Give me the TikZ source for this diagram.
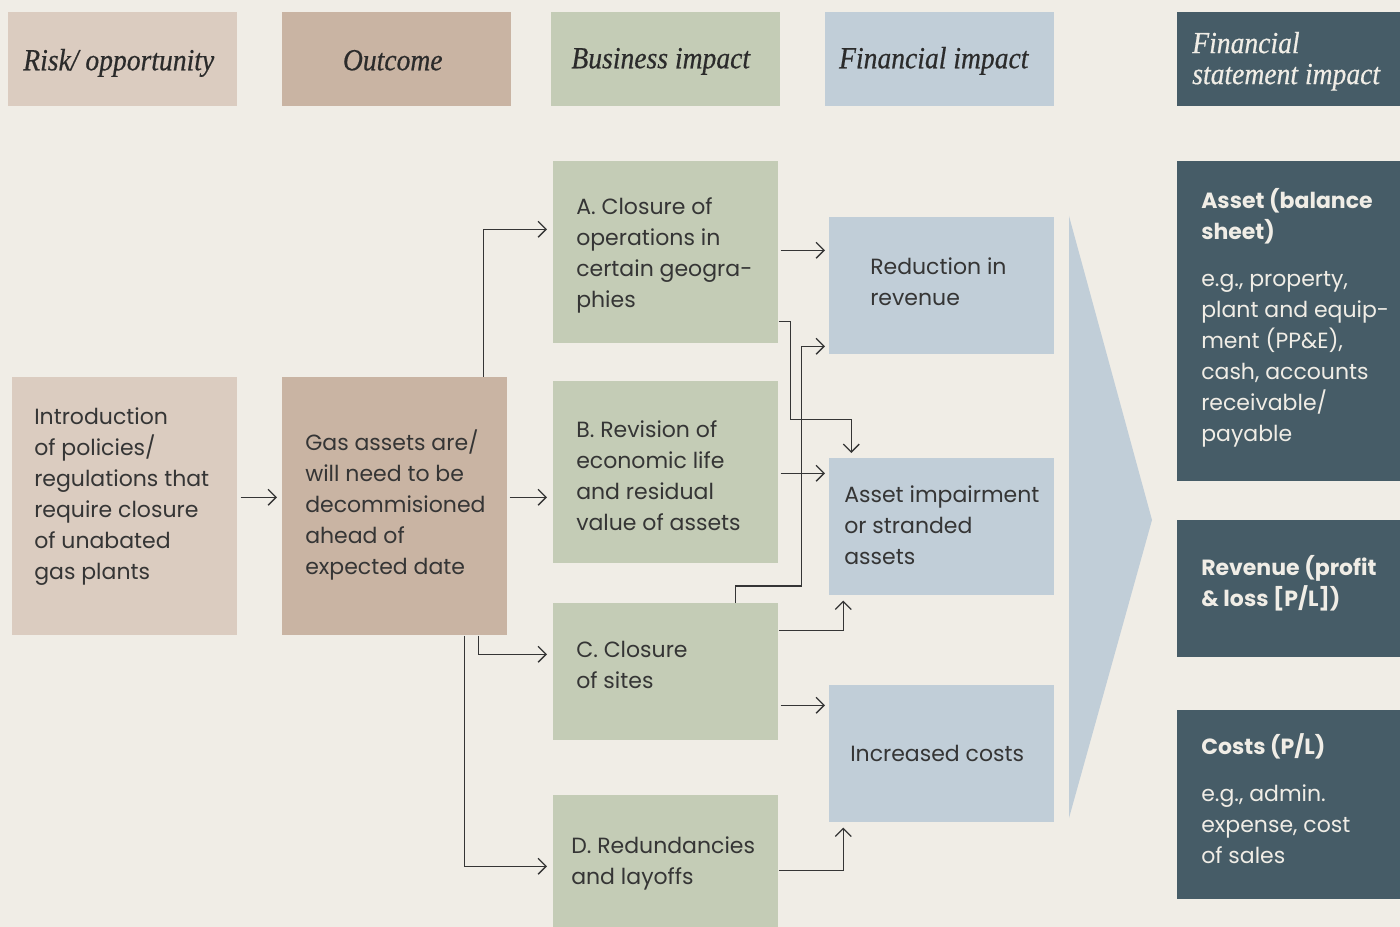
\documentclass[tikz,border=0pt]{standalone}
\usepackage{fontspec}
\setmainfont{Poppins}
\newfontfamily\hdrfont[FakeStretch=0.9,FakeBold=0.5]{Liberation Serif}
\usetikzlibrary{arrows.meta,calc}
\definecolor{bg}{HTML}{F0EDE6}
\definecolor{riskc}{HTML}{DBCCC0}
\definecolor{outc}{HTML}{C9B4A3}
\definecolor{busc}{HTML}{C4CCB6}
\definecolor{finc}{HTML}{C1CED8}
\definecolor{darkc}{HTML}{465C67}
\definecolor{ink}{HTML}{353535}
\definecolor{hink}{HTML}{2B2B2B}
\definecolor{lite}{HTML}{F0EDE6}
\begin{document}
\begin{tikzpicture}[x=0.75pt,y=-0.75pt,
  bx/.style={draw=none, inner sep=0pt, anchor=north west},
  txt/.style={anchor=west, align=left, inner sep=0pt, text=ink, font=\fontsize{16.5}{23.25}\selectfont},
  ltxt/.style={txt, text=lite},
  hdf/.style={font=\hdrfont\itshape\fontsize{23}{23.25}\selectfont},
  hd/.style={bx, minimum width=229*0.75pt, minimum height=94*0.75pt},
  hdt/.style={hdf, anchor=base, inner sep=0pt, text=hink},
  con/.style={draw=ink, line width=1pt, -{Straight Barb[length=6pt,width=12pt]}}]
\fill[bg] (0,0) rectangle (1400,927);
\useasboundingbox (0,0) rectangle (1400,927);
% headers
\node[hd, fill=riskc] (h1) at (8,12) {};
\node[hdt] (h1t) at ([shift={(-4,11)}]h1.center) {Risk/ opportunity};
\node[hd, fill=outc] (h2) at (282,12) {};
\node[hdt] (h2t) at ([shift={(-4,11)}]h2.center) {Outcome};
\node[hd, fill=busc] (h3) at (551,12) {};
\node[hdt] (h3t) at ([shift={(-5,9)}]h3.center) {Business impact};
\node[hd, fill=finc] (h4) at (825,12) {};
\node[hdt] (h4t) at ([shift={(-6,9)}]h4.center) {Financial impact};
\node[bx, fill=darkc, minimum width=223*0.75pt, minimum height=94*0.75pt] (h5) at (1177,12) {};
\node[hdf, anchor=west, align=left, inner sep=0pt, text=lite] (h5t) at ([shift={(15,2)}]h5.west) {Financial\\statement impact};
% boxes
\node[bx, fill=riskc, minimum width=225*0.75pt, minimum height=258*0.75pt] (rk) at (12,377) {};
\node[txt] (rkt) at ([shift={(22,-10)}]rk.west) {Introduction\\of policies/\\regulations that\\require closure\\of unabated\\gas plants};
\node[bx, fill=outc, minimum width=225*0.75pt, minimum height=258*0.75pt] (oc) at (282,377) {};
\node[txt] (oct) at ([shift={(23,-1)}]oc.west) {Gas assets are/\\will need to be\\decommisioned\\ahead of\\expected date};
\node[bx, fill=busc, minimum width=225*0.75pt, minimum height=182*0.75pt] (A) at (553,161) {};
\node[txt] (At) at ([shift={(23,3)}]A.west) {A. Closure of\\operations in\\certain geogra-\\phies};
\node[bx, fill=busc, minimum width=225*0.75pt, minimum height=182*0.75pt] (B) at (553,381) {};
\node[txt] (Bt) at ([shift={(23,3)}]B.west) {B. Revision of\\economic life\\and residual\\value of assets};
\node[bx, fill=busc, minimum width=225*0.75pt, minimum height=137*0.75pt] (C) at (553,603) {};
\node[txt] (Ct) at ([shift={(23,-7)}]C.west) {C. Closure\\of sites};
\node[bx, fill=busc, minimum width=225*0.75pt, minimum height=132*0.75pt] (D) at (553,795) {};
\node[txt] (Dt) at ([shift={(18,2)}]D.west) {D. Redundancies\\and layoffs};
\node[bx, fill=finc, minimum width=225*0.75pt, minimum height=137*0.75pt] (rev) at (829,217) {};
\node[txt] (revt) at ([shift={(41,-4)}]rev.west) {Reduction in\\revenue};
\node[bx, fill=finc, minimum width=225*0.75pt, minimum height=137*0.75pt] (imp) at (829,458) {};
\node[txt] (impt) at ([shift={(15,-2)}]imp.west) {Asset impairment\\or stranded\\assets};
\node[bx, fill=finc, minimum width=225*0.75pt, minimum height=137*0.75pt] (cost) at (829,685) {};
\node[txt] (costt) at ([shift={(21,0)}]cost.west) {Increased costs};
% big arrow
\fill[finc] (1069,216) -- (1152,520) -- (1069,818) -- cycle;
% right column
\node[bx, fill=darkc, minimum width=223*0.75pt, minimum height=320*0.75pt] (fs1) at (1177,161) {};
\node[ltxt] (fs1t) at ([shift={(24,-3)}]fs1.west) {\bfseries Asset (balance\\\bfseries sheet)\\[12pt]e.g., property,\\plant and equip-\\ment (PP\&E),\\cash, accounts\\receivable/\\payable};
\node[bx, fill=darkc, minimum width=223*0.75pt, minimum height=137*0.75pt] (fs2) at (1177,520) {};
\node[ltxt] (fs2t) at ([shift={(24,-6)}]fs2.west) {\bfseries Revenue (profit\\\bfseries \& loss [P/L])};
\node[bx, fill=darkc, minimum width=223*0.75pt, minimum height=189*0.75pt] (fs3) at (1177,710) {};
\node[ltxt] (fs3t) at ([shift={(24,-6)}]fs3.west) {\bfseries Costs (P/L)\\[12pt]e.g., admin.\\expense, cost\\of sales};
% connectors
\draw[con] ([shift={(3,-9)}]rk.east) -- ([shift={(-5,-9)}]oc.west);
\draw[con] ([shift={(2,25)}]B.west -| oc.east) -- ([shift={(-6,25)}]B.west);
\draw[con] ([shift={(-24,0)}]oc.north east) |- ([shift={(-6,-23)}]A.west);
\draw[con] ([shift={(-29,0)}]oc.south east) |- ([shift={(-6,-17.5)}]C.west);
\draw[con] ([shift={(-43,0)}]oc.south east) |- ([shift={(-6,5)}]D.west);
\draw[con] ([shift={(2,-2)}]A.east) -- ([shift={(-4,-35.5)}]rev.west);
\draw[con] ([shift={(0,69)}]A.east) -- ++(12,0) -- ++(0,98) -| ([shift={(-90.5,-5)}]imp.north);
\draw[con] ([shift={(2,1)}]B.east) -- ([shift={(-4,-53.5)}]imp.west);
\draw[con] ([shift={(-43,0)}]C.north east) -- ++(0,-17) -- ++(66,0) |- ([shift={(-4,60.5)}]rev.west);
\draw[con] ([shift={(0,-41.5)}]C.east) -| ([shift={(-98.5,5)}]imp.south);
\draw[con] ([shift={(2,33.5)}]C.east) -- ([shift={(-4,-48.5)}]cost.west);
\draw[con] ([shift={(0,9)}]D.east) -| ([shift={(-98.5,5)}]cost.south);
\end{tikzpicture}
\end{document}
